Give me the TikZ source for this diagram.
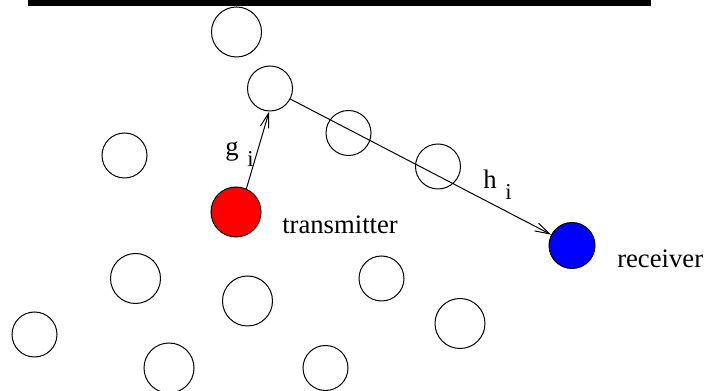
\documentclass[tikz,border=0pt]{standalone}
\usepackage{fontspec}
\setmainfont{Liberation Serif}
\usetikzlibrary{arrows.meta}

\begin{document}
\begin{tikzpicture}[x=0.75pt,y=0.75pt,yscale=-1,xscale=1,
  small/.style={circle,draw,line width=0.75pt,inner sep=0pt,minimum size=33.75pt},
  big/.style={circle,draw,line width=0.75pt,inner sep=0pt,minimum size=37.5pt},
  lbl/.style={anchor=base west,inner sep=0pt,font=\fontsize{20}{24}\selectfont},
  sub/.style={anchor=base west,inner sep=0pt,font=\fontsize{17}{20}\selectfont},
  link/.style={line width=0.75pt,-{Straight Barb[length=11pt,width=6.5pt,line width=0.75pt]}}]
\useasboundingbox (0,0) rectangle (704,391);

%Top bar
\fill (28,0) rectangle (651,6);

%Circles
\node[big]   (top)   at (236.5,32)  {};
\node[small] (relay) at (270,88.5)  {};
\node[small] (left)  at (124.5,155.5) {};
\node[small] (mida)  at (348.5,133) {};
\node[small] (midb)  at (438,166.5) {};
\node[big]   (ca)    at (135.5,278.5) {};
\node[big]   (cb)    at (247.5,301) {};
\node[small] (cc)    at (34.5,334.5) {};
\node[big]   (cd)    at (169,368) {};
\node[small] (ce)    at (325.5,368) {};
\node[small] (cf)    at (381.5,278.5) {};
\node[big]   (cg)    at (460,323.5) {};

%Transmitter and receiver
\node[big,fill={rgb,255:red,255;green,0;blue,0}] (tx) at (236,212) {};
\node[small,minimum size=34.5pt,fill={rgb,255:red,0;green,0;blue,255}] (rx) at (572,245.5) {};

%Links
\draw[link] (tx.66) -- (relay.268);
\draw[link] (relay) -- (rx);

% Text Node
\node[lbl] (txlabel) at (282,234) {transmitter};
% Text Node
\node[lbl] (rxlabel) at (617,267.5) {receiver};
% Text Node
\node[lbl] (glabel) at (225,156) {g};
\node[sub] (gsub) at (247,167) {i};
% Text Node
\node[lbl] (hlabel) at (483,189) {h};
\node[sub] (hsub) at (505,200) {i};

\end{tikzpicture}
\end{document}
